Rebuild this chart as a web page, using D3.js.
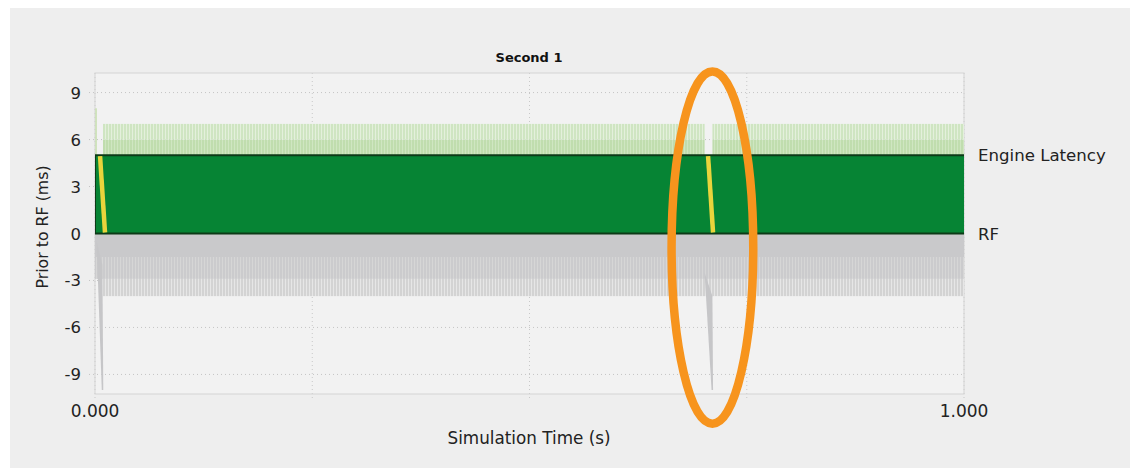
<!DOCTYPE html>
<html><head><meta charset="utf-8">
<script src="https://cdn.jsdelivr.net/npm/d3@7"></script>
<style>
html,body{margin:0;padding:0;background:#fff;}
svg{display:block;font-family:"DejaVu Sans",sans-serif;}
</style></head>
<body><svg id="c" width="1133" height="469"></svg>
<script>
// ---- data ----
const title = "Second 1";
const xTitle = "Simulation Time (s)";
const yTitle = "Prior to RF (ms)";
const xDomain = [0, 1];
const yDomain = [-10.25, 10.25];
const xTickValues = [0, 1];
const xTickLabels = ["0.000", "1.000"];
const xGridValues = [0, 0.25, 0.5, 0.75, 1];
const yTickValues = [-9, -6, -3, 0, 3, 6, 9];
const seriesNames = ["Engine Latency", "RF"];
const seriesLevels = [5, 0];                 // ms
const latencyJitter = [5, 6, 7];             // base, dense top, sparse top (ms)
const latencySegments = [[0.0092, 0.7015], [0.7105, 1.0]];
const rfJitter = [0, -1.5, -2.9, -4.0];      // solid, dense, sparse bottom (ms)
const frameStart = [0.0058, 0.7055];         // yellow marker at 5 ms
const frameEnd = [0.0115, 0.7112];           // yellow marker at 0 ms
const upSpikeT = [0.0012];
const upSpikeV = [8.0];
const downSpikeT0 = [0.0018, 0.7015];
const downSpikeT1 = [0.0085, 0.7105];
const downSpikeTip = [0.0078, 0.7095];
const downSpikeTop = [-0.5, -2.5];
const downSpikeV = [-10.0, -10.0];
const highlightT = [0.7105];
const highlightV = [-0.9];
const highlightRx = [0.047];
const highlightRy = [11.25];

// ---- chart ----
const svg = d3.select("#c");
const W = 1133, H = 469;
const x = d3.scaleLinear().domain(xDomain).range([95, 964]);
const y = d3.scaleLinear().domain(yDomain).range([394, 73]);

svg.append("rect").attr("width", W).attr("height", H).attr("fill", "#fff");
svg.append("rect").attr("x", 10).attr("y", 8).attr("width", 1120).attr("height", 460).attr("fill", "#eeeeee");

const defs = svg.append("defs");
function stripe(id, bg, fg, w, lw) {
  const p = defs.append("pattern").attr("id", id).attr("patternUnits", "userSpaceOnUse")
    .attr("width", w).attr("height", 10);
  p.append("rect").attr("width", w).attr("height", 10).attr("fill", bg);
  p.append("rect").attr("width", lw).attr("height", 10).attr("fill", fg);
}
stripe("lgTop", "#cfe5c2", "#e4f0dc", 3, 1);
stripe("lgLow", "#c0ddae", "#cfe6c1", 3, 1);
stripe("grMid", "#cbcbcd", "#d6d6d6", 3, 1);
stripe("grLow", "#d3d3d3", "#e6e6e6", 3, 1);

// plot background
svg.append("rect").attr("x", x(0)).attr("y", y(yDomain[1]))
  .attr("width", x(1) - x(0)).attr("height", y(yDomain[0]) - y(yDomain[1]))
  .attr("fill", "#f2f2f2");

// grid
const g = svg.append("g");
g.selectAll(".hg").data(yTickValues.filter(d => d !== 0)).join("line")
  .attr("x1", x(0) - 6).attr("x2", x(1)).attr("y1", d => y(d)).attr("y2", d => y(d))
  .attr("stroke", "#c4c4c4").attr("stroke-dasharray", "1,3");
g.selectAll(".vg").data(xGridValues).join("line")
  .attr("x1", d => x(d)).attr("x2", d => x(d)).attr("y1", y(yDomain[1])).attr("y2", y(yDomain[0]) + 6)
  .attr("stroke", "#c8c8c8").attr("stroke-dasharray", "1,3");
// frame lines
svg.append("rect").attr("x", x(0)).attr("y", y(yDomain[1]))
  .attr("width", x(1) - x(0)).attr("height", y(yDomain[0]) - y(yDomain[1]))
  .attr("fill", "none").attr("stroke", "#d4d4d4").attr("stroke-width", 1);

// RF jitter (gray)
svg.append("rect").attr("x", x(0)).attr("width", x(1) - x(0))
  .attr("y", y(rfJitter[0])).attr("height", y(rfJitter[1]) - y(rfJitter[0])).attr("fill", "#c9c9cb");
svg.append("rect").attr("x", x(0)).attr("width", x(1) - x(0))
  .attr("y", y(rfJitter[1])).attr("height", y(rfJitter[2]) - y(rfJitter[1])).attr("fill", "url(#grMid)");
svg.append("rect").attr("x", x(0.009)).attr("width", x(1) - x(0.009))
  .attr("y", y(rfJitter[2])).attr("height", y(rfJitter[3]) - y(rfJitter[2])).attr("fill", "url(#grLow)");

// down spikes
svg.selectAll(".ds").data(downSpikeT0).join("polygon")
  .attr("points", (d, i) => [
    [x(d), y(downSpikeTop[i])], [x(downSpikeT1[i]), y(downSpikeTop[i] - 1.5)],
    [x(downSpikeTip[i]) + 1.5, y(downSpikeV[i])], [x(downSpikeTip[i]), y(downSpikeV[i])]
  ].map(p => p.join(",")).join(" "))
  .attr("fill", "#c6c6c8");

// latency jitter (light green)
latencySegments.forEach(s => {
  svg.append("rect").attr("x", x(s[0])).attr("width", x(s[1]) - x(s[0]))
    .attr("y", y(latencyJitter[1])).attr("height", y(latencyJitter[0]) - y(latencyJitter[1])).attr("fill", "url(#lgLow)");
  svg.append("rect").attr("x", x(s[0])).attr("width", x(s[1]) - x(s[0]))
    .attr("y", y(latencyJitter[2])).attr("height", y(latencyJitter[1]) - y(latencyJitter[2])).attr("fill", "url(#lgTop)");
});
// up spike
svg.selectAll(".us").data(upSpikeT).join("line")
  .attr("x1", d => x(d)).attr("x2", d => x(d))
  .attr("y1", y(seriesLevels[0])).attr("y2", (d, i) => y(upSpikeV[i]))
  .attr("stroke", "#c8e0b0").attr("stroke-width", 1.5);

// engine latency band
svg.append("rect").attr("x", x(0)).attr("width", x(1) - x(0))
  .attr("y", y(seriesLevels[0])).attr("height", y(seriesLevels[1]) - y(seriesLevels[0]))
  .attr("fill", "#068434");
svg.selectAll(".lvl").data(seriesLevels).join("line")
  .attr("x1", x(0)).attr("x2", x(1)).attr("y1", d => y(d)).attr("y2", d => y(d))
  .attr("stroke", "#0d3a17").attr("stroke-width", 2);
svg.append("line").attr("x1", x(0) + 0.5).attr("x2", x(0) + 0.5)
  .attr("y1", y(seriesLevels[0])).attr("y2", y(seriesLevels[1]))
  .attr("stroke", "#0d3a17").attr("stroke-width", 1);

// frame markers (yellow)
svg.selectAll(".fm").data(frameStart).join("line")
  .attr("x1", d => x(d)).attr("y1", y(seriesLevels[0]) + 1)
  .attr("x2", (d, i) => x(frameEnd[i])).attr("y2", y(seriesLevels[1]) - 1)
  .attr("stroke", "#e9d43c").attr("stroke-width", 4.5);

// series labels
svg.selectAll(".sl").data(seriesNames).join("text")
  .attr("x", 978).attr("y", (d, i) => y(seriesLevels[i]) + 6)
  .attr("font-size", 16.6).attr("fill", "#222").text(d => d);

// axes labels
svg.selectAll(".yt").data(yTickValues).join("text")
  .attr("x", 81).attr("y", d => y(d) + 6).attr("text-anchor", "end")
  .attr("font-size", 16.5).attr("fill", "#222").text(d => d);
svg.selectAll(".xt").data(xTickValues).join("text")
  .attr("x", d => x(d)).attr("y", 417).attr("text-anchor", "middle")
  .attr("font-size", 17).attr("fill", "#222").text((d, i) => xTickLabels[i]);

svg.append("text").attr("x", 529).attr("y", 444).attr("text-anchor", "middle")
  .attr("font-size", 16.8).attr("fill", "#222").text(xTitle);
svg.append("text").attr("transform", "translate(48,227) rotate(-90)").attr("text-anchor", "middle")
  .attr("font-size", 15.8).attr("fill", "#222").text(yTitle);
svg.append("text").attr("x", 529).attr("y", 62).attr("text-anchor", "middle")
  .attr("font-size", 13).attr("font-weight", "bold").attr("fill", "#111").text(title);

// highlight ellipse
svg.selectAll(".hl").data(highlightT).join("ellipse")
  .attr("cx", d => x(d)).attr("cy", (d, i) => y(highlightV[i]))
  .attr("rx", (d, i) => x(highlightRx[i]) - x(0)).attr("ry", (d, i) => y(0) - y(highlightRy[i]))
  .attr("fill", "none").attr("stroke", "#f7941d").attr("stroke-width", 8.5);
</script></body></html>
